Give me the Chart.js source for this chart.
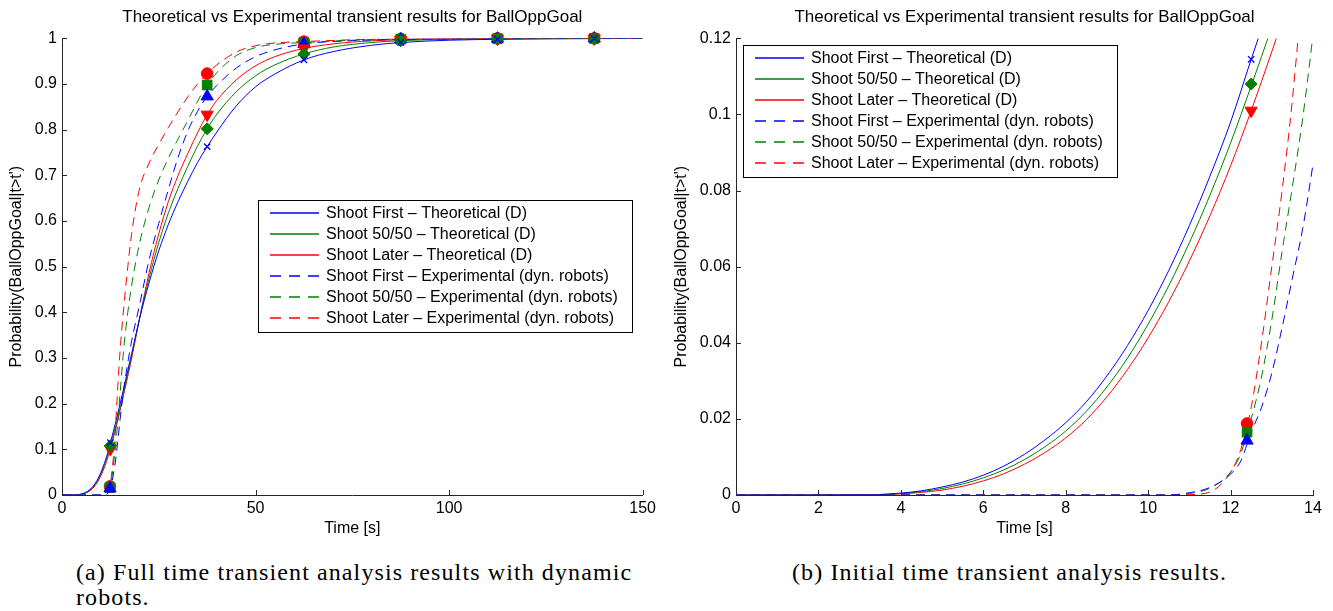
<!DOCTYPE html>
<html><head><meta charset="utf-8">
<script src="https://cdn.jsdelivr.net/npm/chart.js@4.4.0/dist/chart.umd.min.js"></script>
<style>
html,body{margin:0;padding:0;background:#fff;width:1333px;height:611px;overflow:hidden;}
#c1{position:absolute;left:0;top:0;}
#c2{position:absolute;left:665px;top:0;}
.cap{position:absolute;font-family:"Liberation Serif","Times New Roman",serif;font-size:24px;letter-spacing:1.1px;color:#000;white-space:nowrap;line-height:25px;}
</style></head><body>
<canvas id="c1" width="660" height="550"></canvas>
<canvas id="c2" width="668" height="550"></canvas>
<div class="cap" style="left:76px;top:560px;">(a) Full time transient analysis results with dynamic<br>robots.</div>
<div class="cap" style="left:792px;top:560px;">(b) Initial time transient analysis results.</div>
<script>
// ---------- text ----------
const chartTitle = 'Theoretical vs Experimental transient results for BallOppGoal';
const xTitle = 'Time [s]';
const yTitle = "Probability(BallOppGoal|t>t')";
const seriesNames = [
  'Shoot First \u2013 Theoretical (D)',
  'Shoot 50/50 \u2013 Theoretical (D)',
  'Shoot Later \u2013 Theoretical (D)',
  'Shoot First \u2013 Experimental (dyn. robots)',
  'Shoot 50/50 \u2013 Experimental (dyn. robots)',
  'Shoot Later \u2013 Experimental (dyn. robots)'
];

// ---------- tick labels ----------
const leftXTicks = [0, 50, 100, 150];
const leftYTicks = [0, 0.1, 0.2, 0.3, 0.4, 0.5, 0.6, 0.7, 0.8, 0.9, 1];
const rightXTicks = [0, 2, 4, 6, 8, 10, 12, 14];
const rightYTicks = [0, 0.02, 0.04, 0.06, 0.08, 0.1, 0.12];

// ---------- theoretical curves ----------
const theoTime = [0,1,2,3,3.5,4,4.5,5,5.5,6,6.5,7,7.5,8,8.5,9,9.5,10,10.5,11,11.5,12,12.5,13,13.5,14,16,18,20,22.5,25,27.5,30,32.5,35,37.5,40,45,50,55,62.5,70,80,87.5,100,112.5,125,137.5,150];
const theoFirst = [0,0,0,0.00003,0.00015,0.0005,0.0011,0.0021,0.0034,0.0052,
  0.0076,0.0107,0.0145,0.019,0.0245,0.0313,0.0393,0.0485,0.059,0.0708,
  0.0838,0.098,0.1145,0.1305,0.147,0.164,0.236,0.31,0.385,0.465,
  0.535,0.593,0.643,0.687,0.728,0.763,0.795,0.852,0.894,0.922,
  0.953,0.971,0.985,0.991,0.996,0.998,0.999,0.9995,1];
const theoFifty = [0,0,0,0.00002,0.0001,0.0004,0.0009,0.0017,0.0029,0.0045,
  0.0066,0.0093,0.0127,0.0168,0.022,0.0284,0.036,0.0449,0.055,0.0663,
  0.0788,0.0925,0.1075,0.123,0.139,0.155,0.227,0.305,0.385,0.475,
  0.553,0.618,0.672,0.72,0.764,0.802,0.834,0.883,0.918,0.942,
  0.966,0.981,0.991,0.995,0.998,0.999,0.9995,1,1];
const theoLater = [0,0,0,0.00002,0.00008,0.0003,0.0007,0.0013,0.0023,0.0037,
  0.0056,0.0081,0.0112,0.015,0.0198,0.0258,0.033,0.0413,0.0508,0.0615,
  0.0734,0.0865,0.101,0.1165,0.1325,0.149,0.222,0.30,0.385,0.487,
  0.572,0.643,0.70,0.748,0.793,0.833,0.864,0.909,0.94,0.96,
  0.978,0.988,0.9947,0.997,0.999,0.9995,1,1,1];

// ---------- experimental curves ----------
const expTime = [0,10.5,11,11.5,12,12.25,12.5,12.75,13,13.25,13.5,13.75,14,14.5,15,16,17,18,20,22.5,25,27.5,30,32.5,35,37.5,40,45,50,55,62.5,75,87.5,100,112.5,125,150];
const expFirst = [0,0,0.0006,0.002,0.0055,0.009,0.0165,0.023,0.032,0.044,0.057,0.070,0.087,0.125,0.165,0.235,0.29,0.338,0.415,0.515,0.595,0.67,0.74,0.797,0.84,0.873,0.897,0.935,0.96,0.975,0.988,0.995,0.998,0.999,0.9995,1,1];
const expFifty = [0,0,0.0004,0.0018,0.006,0.011,0.020,0.031,0.046,0.064,0.081,0.099,0.121,0.17,0.222,0.325,0.40,0.46,0.55,0.63,0.69,0.738,0.78,0.82,0.862,0.898,0.925,0.962,0.98,0.987,0.991,0.996,0.998,0.999,0.9995,1,1];
const expLater = [0,0,0.0001,0.0008,0.006,0.012,0.023,0.040,0.060,0.080,0.104,0.135,0.175,0.25,0.315,0.415,0.50,0.573,0.67,0.727,0.768,0.805,0.84,0.872,0.90,0.923,0.942,0.97,0.984,0.99,0.993,0.997,0.999,0.9995,1,1,1];

// ---------- markers ----------
const theoMarkTime = [12.5, 37.5, 62.5, 87.5, 112.5, 137.5];
const expMarkTime = [12.4, 37.5, 62.5, 87.5, 112.5, 137.5];
const markTheoFirst = [0.1145, 0.763, 0.953, 0.991, 0.998, 0.9995];
const markTheoFifty = [0.108, 0.802, 0.966, 0.995, 0.999, 0.9995];
const markTheoLater = [0.101, 0.833, 0.978, 0.997, 0.9995, 1];
const markExpFirst = [0.0143, 0.873, 0.988, 0.998, 0.9995, 1];
const markExpFifty = [0.0165, 0.898, 0.991, 0.998, 0.9995, 1];
const markExpLater = [0.0188, 0.923, 0.993, 0.999, 1, 1];

const BLUE = '#0000ff', GREEN = '#008000', RED = '#ff0000', AXIS = '#262626';
const FONT = '"Liberation Sans", Arial, Helvetica, sans-serif';
const PLOT_DASH = [9, 6], LEGEND_DASH = [11, 8];

Chart.defaults.font.family = FONT;
Chart.defaults.font.size = 16;
Chart.defaults.color = '#000';

function pts(time, vals) { return time.map((t, i) => ({ x: t, y: vals[i] })); }
function lineDs(label, time, vals, color, dashed) {
  return { label, data: pts(time, vals), borderColor: color, backgroundColor: color,
    borderWidth: 1, borderDash: dashed ? PLOT_DASH : [], pointRadius: 0, pointHoverRadius: 0,
    cubicInterpolationMode: 'monotone', fill: false, order: dashed ? 1 : 2, inLegend: true, dashed };
}
function markDs(time, vals, color, style, radius, rotation) {
  return { label: '', data: pts(time, vals), showLine: false, pointStyle: style,
    pointRadius: radius, pointHoverRadius: radius, pointRotation: rotation || 0,
    pointBackgroundColor: color, pointBorderColor: color, pointBorderWidth: style === 'crossRot' ? 1.3 : 1,
    borderColor: color, clip: false, order: 0, inLegend: false };
}
function datasets() {
  return [
    lineDs(seriesNames[0], theoTime, theoFirst, BLUE, false),
    lineDs(seriesNames[1], theoTime, theoFifty, GREEN, false),
    lineDs(seriesNames[2], theoTime, theoLater, RED, false),
    lineDs(seriesNames[3], expTime, expFirst, BLUE, true),
    lineDs(seriesNames[4], expTime, expFifty, GREEN, true),
    lineDs(seriesNames[5], expTime, expLater, RED, true),
    markDs(theoMarkTime, markTheoFirst, BLUE, 'crossRot', 4.5),
    markDs(theoMarkTime, markTheoFifty, GREEN, 'rectRot', 6),
    markDs(theoMarkTime, markTheoLater, RED, 'triangle', 7, 180),
    markDs(expMarkTime, markExpFirst, BLUE, 'triangle', 7),
    markDs(expMarkTime, markExpFifty, GREEN, 'rect', 6.8),
    markDs(expMarkTime, markExpLater, RED, 'circle', 5.8)
  ];
}

const inTicks = {
  id: 'inTicks',
  beforeDatasetsDraw(chart) {
    const { ctx, chartArea: a, scales: { x, y } } = chart;
    ctx.save(); ctx.strokeStyle = AXIS; ctx.lineWidth = 1; ctx.beginPath();
    x.ticks.forEach(t => { const px = Math.round(x.getPixelForValue(t.value)) + 0.5; ctx.moveTo(px, a.bottom); ctx.lineTo(px, a.bottom - 5); });
    y.ticks.forEach(t => { const py = Math.round(y.getPixelForValue(t.value)) + 0.5; ctx.moveTo(a.left, py); ctx.lineTo(a.left + 5, py); });
    ctx.stroke(); ctx.restore();
  }
};
const boxLegend = {
  id: 'boxLegend',
  afterDraw(chart, args, o) {
    const ctx = chart.ctx;
    ctx.save();
    ctx.fillStyle = '#fff'; ctx.fillRect(o.x, o.y, o.w, o.h);
    ctx.strokeStyle = '#000'; ctx.lineWidth = 1; ctx.strokeRect(o.x + 0.5, o.y + 0.5, o.w, o.h);
    ctx.font = '16px ' + FONT; ctx.textBaseline = 'middle'; ctx.textAlign = 'left';
    chart.data.datasets.filter(d => d.inLegend).forEach((d, i) => {
      const cy = Math.round(o.y + o.rowTop + i * o.rowH);
      ctx.strokeStyle = d.borderColor; ctx.lineWidth = 1.3; ctx.setLineDash(d.dashed ? LEGEND_DASH : []);
      ctx.beginPath(); ctx.moveTo(o.x + o.lineX0, cy); ctx.lineTo(o.x + o.lineX1, cy); ctx.stroke();
      ctx.setLineDash([]);
      ctx.fillStyle = '#000'; ctx.fillText(d.label, o.x + o.textX, cy + 0.5);
    });
    ctx.restore();
  }
};

function makeChart(id, xmin, xmax, xt, ymin, ymax, yt, yAxisW, padRight, legendPos) {
  return new Chart(document.getElementById(id), {
    type: 'line',
    data: { datasets: datasets() },
    plugins: [inTicks, boxLegend],
    options: {
      responsive: false, animation: false, events: [],
      layout: { padding: { left: 0, right: padRight, top: 0, bottom: 0 } },
      plugins: {
        legend: { display: false }, tooltip: { enabled: false },
        title: { display: true, text: chartTitle, fullSize: false, color: '#000',
          font: { family: FONT, size: 17, weight: 'normal' }, padding: { top: 7, bottom: 11 } },
        boxLegend: Object.assign({ w: 374, h: 132, rowTop: 12.5, rowH: 21, lineX0: 12, lineX1: 61, textX: 68 }, legendPos)
      },
      scales: {
        x: { type: 'linear', min: xmin, max: xmax,
          afterBuildTicks: s => { s.ticks = xt.map(v => ({ value: v })); },
          afterFit: s => { s.height = 55; },
          grid: { display: false, drawTicks: false },
          border: { display: true, color: AXIS, width: 1 },
          ticks: { padding: 4, color: '#000', font: { size: 16 }, callback: v => String(v), maxRotation: 0 },
          title: { display: true, text: xTitle, color: '#000', font: { size: 16 }, padding: { top: 0, bottom: 12 } } },
        y: { type: 'linear', min: ymin, max: ymax,
          afterBuildTicks: s => { s.ticks = yt.map(v => ({ value: v })); },
          afterFit: s => { s.width = yAxisW; },
          grid: { display: false, drawTicks: false },
          border: { display: true, color: AXIS, width: 1 },
          ticks: { padding: 5, color: '#000', font: { size: 16 }, callback: v => String(v) },
          title: { display: true, text: yTitle, color: '#000', font: { size: 16 }, padding: { top: 7, bottom: 0 } } }
      }
    }
  });
}

makeChart('c1', 0, 150, leftXTicks, 0, 1, leftYTicks, 62, 17, { x: 258, y: 200 });
makeChart('c2', 0, 14, rightXTicks, 0, 0.12, rightYTicks, 71, 20, { x: 78, y: 45 });
</script>
</body></html>
